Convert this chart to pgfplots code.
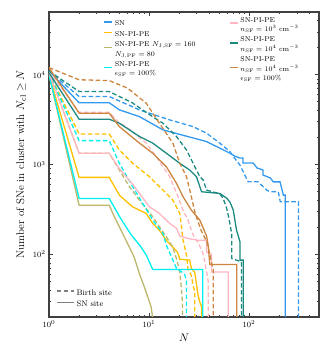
\documentclass[border=0pt]{standalone}
\usepackage{pgfplots}
\pgfplotsset{compat=1.18}
\definecolor{cSN}{HTML}{3399EE}
\definecolor{cPE}{HTML}{FFC000}
\definecolor{cNJ}{HTML}{BDB76B}
\definecolor{cEps}{HTML}{00F0F0}
\definecolor{cNa}{HTML}{FFB6C1}
\definecolor{cNb}{HTML}{1B8A80}
\definecolor{cNc}{HTML}{CD853F}
\definecolor{fr}{HTML}{404040}
\begin{document}
\begin{tikzpicture}
\begin{axis}[xmode=log, ymode=log,
    scale only axis, width=270pt, height=305pt,
    xmin=1, xmax=500, ymin=20, ymax=50000,
    axis line style={draw=fr, line width=1.1pt},
    tick align=inside,
    major tick length=4pt, minor tick length=2pt,
    tick style={fr, line width=0.6pt},
    tick label style={font=\fontsize{8.5}{10}\selectfont},
    legend style={draw=none, fill=none, font=\fontsize{7}{8.5}\selectfont, at={(0.19,0.985)}, anchor=north west},
    legend cell align=left,
    legend image post style={xscale=0.47, yshift=2pt},
  xlabel={\fontsize{11}{12}\selectfont $N$},
  ylabel={\fontsize{11}{12}\selectfont Number of SNe in cluster with $N_{\mathrm{cl}} \geq N$},
]
\addplot[cSN, line width=1.3pt, dash pattern=on 4.5pt off 2.5pt, forget plot] coordinates {(1,11000)(2,5720)(4,5720)(8,4060)(16.1,3140)(27.6,2640)(37.6,2230)(51,1730)(64,1400)(75,1100)(81,986)(98,641)(123,641)(150,519)(162,497)(196,497)(205,385)(312,385)(312,1)};
\addplot[cSN, line width=1.3pt] coordinates {(1,11000)(2,4870)(4,4870)(5.05,4060)(8,3420)(13.8,2430)(37.6,1800)(51,1520)(64,1340)(72,1240)(81,1180)(87,1180)(87,1040)(110,1040)(120,915)(138,868)(138,763)(163,708)(175,640)(204,640)(220,456)(230,456)(230,1)};
\addlegendentry{SN}
\addplot[cPE, line width=1.3pt, dash pattern=on 4.5pt off 2.5pt, forget plot] coordinates {(1,10500)(2,2190)(4,2190)(5.05,1450)(6.87,1030)(10.1,731)(13.8,519)(17.3,401)(20.3,285)(21.1,202)(21.9,143)(23.7,97.5)(24.5,69)(26.5,58)(27.6,45)(28.6,38)(28.6,1)};
\addplot[cPE, line width=1.3pt] coordinates {(1,10000)(2,719)(4,719)(5.05,456)(5.9,390)(6.87,337)(9.37,285)(10.9,220)(12.7,185)(14.9,143)(17.2,121)(19.3,105)(20.3,88)(25.5,86)(26.5,69)(28.6,63)(30.9,35)(32.2,29.3)(33.5,26)(33.5,1)};
\addlegendentry{SN-PI-PE}
\addplot[cNJ, line width=1.3pt, dash pattern=on 4.5pt off 2.5pt, forget plot] coordinates {(1,10500)(2,1334)(4,1334)(5.05,868)(6.37,565)(8.03,401)(10.9,261)(14.9,156)(17.2,121)(18.8,89.5)(20.3,63.4)(21.1,40)(21.6,29)(21.6,1)};
\addplot[cNJ, line width=1.3pt] coordinates {(1,10000)(2,352)(4,352)(4.5,261)(5.25,185)(6.1,132)(7.1,93)(8,61)(9,43)(10.5,25.8)(10.9,19)(11.2,10)};
\addlegendentry{\shortstack[l]{SN-PI-PE $N_{\mathrm{J,SF}} = 160$\\$N_{\mathrm{J,PF}} = 80$}}
\addplot[cEps, line width=1.3pt, dash pattern=on 4.5pt off 2.5pt, forget plot] coordinates {(1,10500)(2,1845)(4,1845)(5.05,1030)(6.87,565)(8.66,368)(10.9,240)(13.8,170)(14.9,126)(16.5,97.5)(18.8,70)(22.7,60)(23.7,50)(23.7,1)};
\addplot[cEps, line width=1.3pt] coordinates {(1,10000)(2,419)(4,419)(5.1,260)(6.5,170)(8.3,121)(9.4,97.5)(10.9,67.5)(34.5,67.5)(34.5,1)};
\addlegendentry{\shortstack[l]{SN-PI-PE\\$\epsilon_{\mathrm{SF}} = 100\%$}}
\end{axis}
\begin{axis}[xmode=log, ymode=log, hide axis,
    scale only axis, width=270pt, height=305pt,
    xmin=1, xmax=500, ymin=20, ymax=50000,
    legend style={draw=none, fill=none, font=\fontsize{7}{8.5}\selectfont, at={(0.655,0.997)}, anchor=north west},
    legend cell align=left,
    legend image post style={xscale=0.47, yshift=2pt},
]
\addplot[cNa, line width=1.3pt, dash pattern=on 4.5pt off 2.5pt, forget plot] coordinates {(1,11000)(2,3830)(4,3830)(5.05,2880)(5.9,2640)(9.37,1730)(11.8,1223)(16.1,731)(19.5,437)(21.9,310)(24.5,240)(26.5,185)(28.6,150)(30.9,137)(34.8,100)(36.1,82)(38,60)(39,50)(39,1)};
\addplot[cNa, line width=1.3pt] coordinates {(1,10500)(2,1334)(4,1334)(5.05,900)(6.87,600)(8.03,476)(10.1,337)(12.7,285)(16.1,220)(18.8,195)(20.3,160)(24.5,150)(30.9,143)(37.6,143)(37.6,106)(42.2,100)(42.2,63.4)(62,63.4)(62,1)};
\addlegendentry{\shortstack[l]{SN-PI-PE\\$n_{\mathrm{SF}} = 10^{3}\ \mathrm{cm}^{-3}$}}
\addplot[cNb, line width=1.3pt, dash pattern=on 4.5pt off 2.5pt, forget plot] coordinates {(1,11000)(2,6500)(4,6500)(6.8,4870)(10.8,3420)(13.8,2880)(18.8,2050)(23.7,1450)(27.6,1030)(32.2,731)(34.8,671)(37.6,519)(45,490)(51,470)(55,420)(59.5,330)(63,250)(67,170)(67,90)(84,82)(84,1)};
\addplot[cNb, line width=1.3pt] coordinates {(1,10500)(2,3200)(4,3200)(5.05,2880)(8.03,2050)(10.9,1730)(14.9,1334)(20.3,1030)(25.5,868)(29.8,731)(33.5,497)(51,476)(60,420)(64.5,380)(69.5,310)(75,185)(78,160)(81.2,137)(81.2,86)(87.6,86)(87.6,1)};
\addlegendentry{\shortstack[l]{SN-PI-PE\\$n_{\mathrm{SF}} = 10^{4}\ \mathrm{cm}^{-3}$}}
\addplot[cNc, line width=1.3pt, dash pattern=on 4.5pt off 2.5pt, forget plot] coordinates {(1,12000)(2,8790)(4,8600)(6.1,7100)(9.4,4800)(12.7,2880)(17.3,1730)(20.3,1030)(23.7,731)(26.5,437)(28.6,300)(30.9,230)(33.5,180)(37.6,140)(40.5,100)(42.2,80)(43.8,69)(43.8,1)};
\addplot[cNc, line width=1.3pt] coordinates {(1,12000)(2,3730)(4,3730)(5.05,2640)(8.03,1730)(10.9,1334)(14.9,944)(18.8,617)(21.9,437)(26.5,310)(32.2,240)(37.6,160)(39,126)(40.5,77)(75.2,77)(75.2,1)};
\addlegendentry{\shortstack[l]{SN-PI-PE\\$n_{\mathrm{SF}} = 10^{4}\ \mathrm{cm}^{-3}$\\$\epsilon_{\mathrm{SF}} = 100\%$}}
\end{axis}
\begin{axis}[xmode=log, ymode=log, hide axis,
    scale only axis, width=270pt, height=305pt,
    xmin=1, xmax=500, ymin=20, ymax=50000,
    legend style={draw=none, fill=none, font=\fontsize{8}{9.5}\selectfont, at={(0.015,0.015)}, anchor=south west},
    legend cell align=left,
    legend image post style={yshift=2.5pt},
]
\addlegendimage{gray, line width=1.3pt, dash pattern=on 4.5pt off 2.5pt}
\addlegendentry{Birth site}
\addlegendimage{gray, line width=1.3pt}
\addlegendentry{SN site}
\path (rel axis cs:0,0) ++(-49pt,-43pt) coordinate (bl);
\path (rel axis cs:1,1) ++(12pt,12pt) coordinate (tr);
\end{axis}
\path (bl) rectangle (tr);
\end{tikzpicture}
\end{document}
